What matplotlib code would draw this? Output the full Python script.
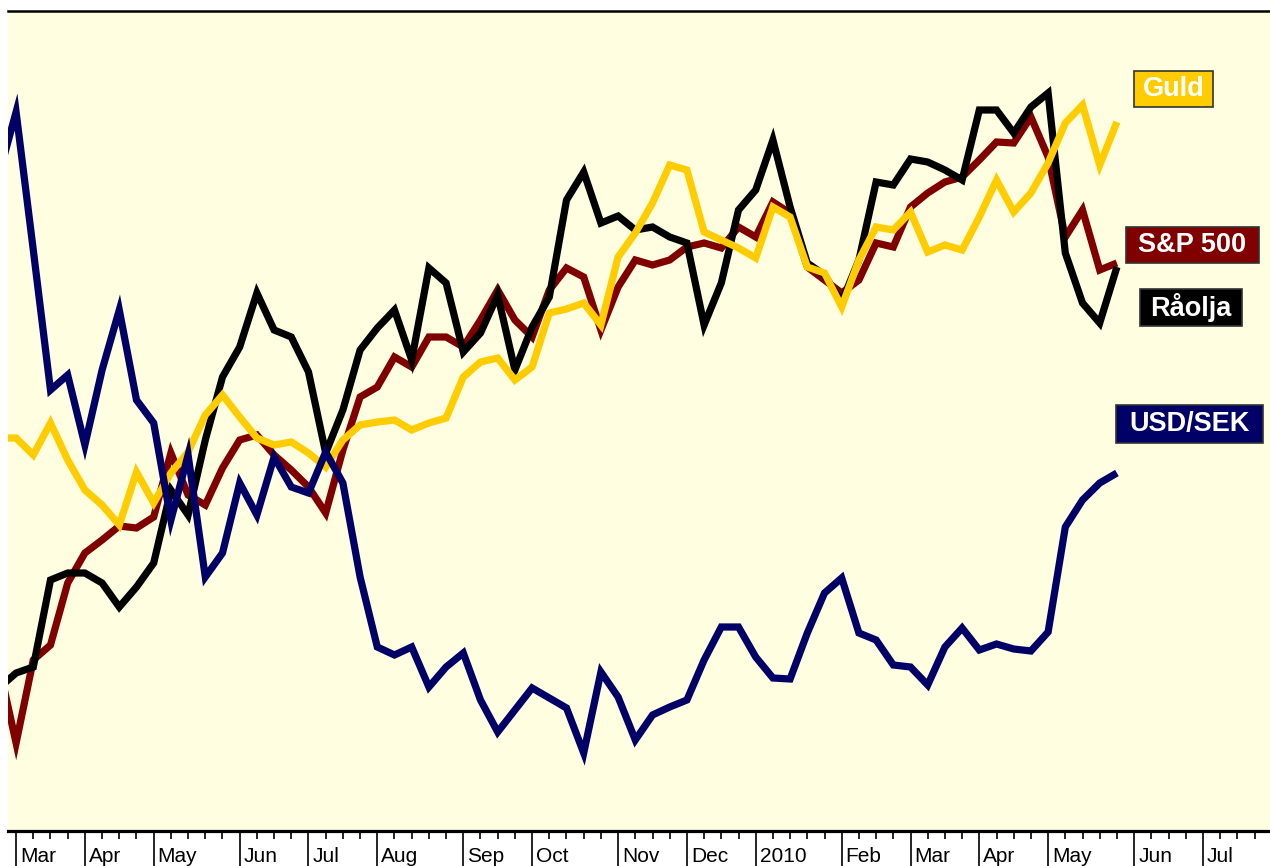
import numpy as np
import pandas as pd
import matplotlib
matplotlib.use("Agg")
import matplotlib.pyplot as plt
from matplotlib.patches import Rectangle
from matplotlib.ticker import FixedLocator, NullFormatter

plt.rcParams['font.family'] = ['Liberation Sans', 'DejaVu Sans']

# weekly observations (Saturdays), first week is partly outside the frame
weeks = pd.date_range('2009-02-28', '2010-07-24', freq='W-SAT')

# relative levels (no y scale shown in the original)
usd_sek = [65.6, 71.9, 58.1, 44.1, 45.6, 38.6, 46.1, 52.1, 43.1, 40.8,
           31.1, 37.6, 25.4, 27.8, 34.8, 31.6, 37.4, 34.4, 33.8, 37.9,
           34.8, 25.4, 18.4, 17.6, 18.4, 14.4, 16.4, 17.8, 13.1, 9.9,
           12.1, 14.3, 13.3, 12.3, 7.8, 15.9, 13.4, 9.1, 11.6, 12.4,
           13.1, 17.1, 20.4, 20.4, 17.4, 15.3, 15.2, 19.8, 23.8, 25.3,
           19.8, 19.1, 16.6, 16.4, 14.6, 18.4, 20.3, 18.1, 18.7, 18.2,
           18.0, 19.9, 30.4, 33.1, 34.8, 35.8]

raolja = [14.3, 15.8, 16.4, 25.1, 25.8, 25.8, 24.8, 22.4, 24.4, 26.8,
          34.1, 31.6, 39.1, 45.4, 48.4, 53.8, 50.1, 49.4, 45.9, 37.8,
          42.1, 48.1, 50.3, 52.1, 47.1, 56.3, 54.8, 47.9, 49.8, 53.6,
          46.1, 50.4, 53.4, 63.1, 65.9, 60.8, 61.5, 60.1, 60.4, 59.4,
          58.8, 50.6, 54.8, 62.1, 64.1, 69.1, 62.4, 56.8, 55.6, 52.9,
          57.1, 64.9, 64.6, 67.2, 66.9, 66.1, 65.1, 72.1, 72.1, 69.8,
          72.4, 73.8, 57.8, 52.8, 50.8, 56.4]

sp500 = [16.6, 8.8, 17.1, 18.6, 24.8, 27.8, 29.1, 30.5, 30.3, 31.4,
         37.8, 33.6, 32.6, 36.3, 39.1, 39.6, 37.6, 36.1, 34.4, 31.8,
         38.1, 43.4, 44.4, 47.4, 46.4, 49.4, 49.4, 48.4, 51.1, 54.1,
         51.1, 49.4, 54.1, 56.3, 55.4, 50.1, 54.4, 57.1, 56.6, 57.1,
         58.4, 58.8, 58.3, 60.4, 59.4, 62.9, 61.8, 56.4, 55.1, 53.8,
         55.1, 58.8, 58.4, 62.4, 63.8, 64.9, 65.4, 67.1, 68.9, 68.8,
         71.4, 67.4, 59.4, 62.1, 56.1, 56.8]

guld = [39.3, 39.3, 37.6, 40.8, 37.1, 34.1, 32.6, 30.6, 35.9, 32.8,
        35.8, 37.9, 41.6, 43.6, 41.4, 39.3, 38.6, 38.9, 37.8, 36.4,
        39.1, 40.6, 40.9, 41.1, 40.1, 40.8, 41.3, 45.4, 46.9, 47.3,
        45.1, 46.4, 51.8, 52.2, 52.8, 50.6, 57.4, 59.8, 62.8, 66.6,
        66.1, 59.9, 59.1, 58.3, 57.3, 62.4, 61.4, 56.4, 55.8, 52.4,
        57.1, 60.4, 60.1, 61.9, 57.9, 58.6, 58.1, 61.4, 65.1, 61.9,
        63.8, 66.8, 70.8, 72.6, 66.6, 70.9]

month_names = ['Jan', 'Feb', 'Mar', 'Apr', 'May', 'Jun', 'Jul', 'Aug',
               'Sep', 'Oct', 'Nov', 'Dec']

series = [
    ('S&P 500', sp500, '#800000'),
    ('Råolja', raolja, '#000000'),
    ('Guld', guld, '#FFCC00'),
    ('USD/SEK', usd_sek, '#000066'),
]

W, H = 1270, 866
fig = plt.figure(figsize=(W / 100, H / 100), dpi=100, facecolor='white')
ax = fig.add_axes([8 / W, 35 / H, 1262 / W, 820 / H])
ax.set_facecolor('#FFFEE0')

pos = np.arange(len(weeks))
for name, vals, col in series:
    ax.plot(pos[:len(vals)], vals, color=col, lw=5.2,
            solid_joinstyle='miter', solid_capstyle='butt')

ax.set_xlim(0.53, 73.9)
ax.set_ylim(0, 82)

# month ticks at first week of each month, weekly minor ticks
first = [i for i in range(1, len(weeks)) if weeks[i].month != weeks[i - 1].month]
minor = [i for i in pos if i not in first]
ax.xaxis.set_major_locator(FixedLocator(first))
ax.xaxis.set_minor_locator(FixedLocator(minor))
ax.xaxis.set_major_formatter(NullFormatter())
ax.tick_params(axis='x', which='major', direction='out', length=26, width=1.2, color='black')
ax.tick_params(axis='x', which='minor', direction='out', length=6, width=1.2, color='black')
ax.set_yticks([])

for i in first:
    d = weeks[i]
    lab = str(d.year) if d.month == 1 else month_names[d.month - 1]
    ax.annotate(lab, xy=(i, 0), xycoords=('data', 'axes fraction'),
                xytext=(4, -16), textcoords='offset pixels',
                ha='left', va='top', fontsize=15, color='black')

for side in ['left', 'right']:
    ax.spines[side].set_visible(False)
ax.spines['bottom'].set_linewidth(2.3)
ax.spines['top'].set_linewidth(1.8)

# boxed series names on the right (box corners in pixels)
tags = [
    ('Guld', (1134, 71, 1213, 107), '#FFCC00'),
    ('S&P 500', (1126, 227, 1259, 263), '#800000'),
    ('Råolja', (1140, 289, 1242, 326), '#000000'),
    ('USD/SEK', (1116, 405, 1263, 443), '#000066'),
]
for txt, (x0, y0, x1, y1), col in tags:
    fig.patches.append(Rectangle((x0 / W, 1 - y1 / H), (x1 - x0) / W, (y1 - y0) / H,
                                 transform=fig.transFigure, facecolor=col,
                                 edgecolor='#333333', linewidth=1.2, zorder=5))
    fig.text((x0 + x1) / 2 / W, 1 - (y0 + y1) / 2 / H, txt, ha='center', va='center',
             fontsize=19.5, fontweight='bold', color='white', zorder=6)

fig.savefig('out.png', dpi=100, facecolor='white')
